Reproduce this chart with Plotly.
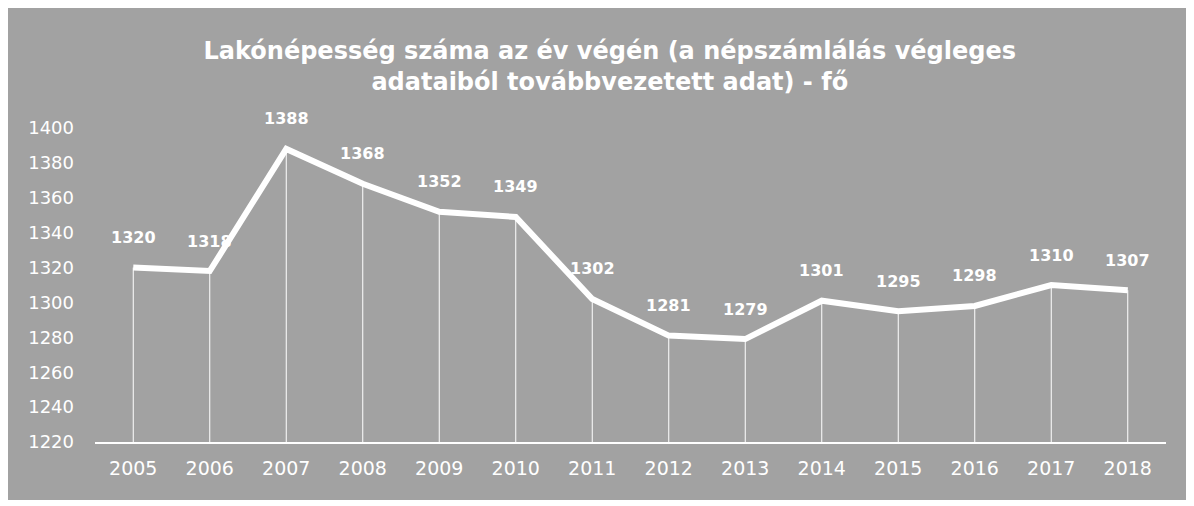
import plotly.graph_objects as go

years = ['2005', '2006', '2007', '2008', '2009', '2010', '2011',
         '2012', '2013', '2014', '2015', '2016', '2017', '2018']
population = [1320, 1318, 1388, 1368, 1352, 1349, 1302,
              1281, 1279, 1301, 1295, 1298, 1310, 1307]
y_ticks = [1220, 1240, 1260, 1280, 1300, 1320, 1340, 1360, 1380, 1400]

title_text = ('Lakónépesség száma az év végén (a népszámlálás végleges<br>'
              'adataiból továbbvezetett adat) - fő')

bg_gray = '#a2a2a2'
font_name = 'DejaVu Sans'

pos = list(range(len(years)))

# drop lines from each point down to the axis
drop_x = []
drop_y = []
for p, val in zip(pos, population):
    drop_x.extend([p, p, None])
    drop_y.extend([val, y_ticks[0], None])

fig = go.Figure()
fig.add_trace(go.Scatter(
    x=drop_x, y=drop_y, mode='lines',
    line=dict(color='white', width=1),
    hoverinfo='skip', showlegend=False
))
fig.add_trace(go.Scatter(
    x=pos, y=population, mode='lines',
    line=dict(color='white', width=6),
    showlegend=False
))

for p, val in zip(pos, population):
    fig.add_annotation(
        x=p, y=val, text=str(val), showarrow=False, yshift=30,
        font=dict(family=font_name, size=16, color='white', weight='bold')
    )

# gray card behind the whole chart
fig.add_shape(
    type='rect', xref='paper', yref='paper',
    x0=-0.09, x1=1.0193, y0=-0.185, y1=1.42,
    fillcolor=bg_gray, line=dict(width=0), layer='below'
)

fig.update_layout(
    width=1194, height=506,
    margin=dict(l=87, r=36, t=120, b=72),
    paper_bgcolor='white',
    plot_bgcolor=bg_gray,
    title=dict(
        text=title_text, x=0.504, xref='container', xanchor='center',
        y=0.90, yanchor='top',
        font=dict(family=font_name, size=24, color='white', weight='bold')
    ),
    font=dict(family=font_name, color='white'),
)
fig.update_xaxes(
    range=[-0.5, len(years) - 0.5], tickvals=pos, ticktext=years,
    showgrid=False, zeroline=False,
    showline=True, linecolor='white', linewidth=2,
    tickfont=dict(size=19, color='white'),
    ticks='', ticklabelstandoff=8
)
fig.update_yaxes(
    range=[1220, 1400], tickvals=y_ticks, showgrid=False,
    zeroline=False, showline=False,
    tickfont=dict(size=18, color='white'),
    ticklabelstandoff=20
)

fig.write_html('out.html')
